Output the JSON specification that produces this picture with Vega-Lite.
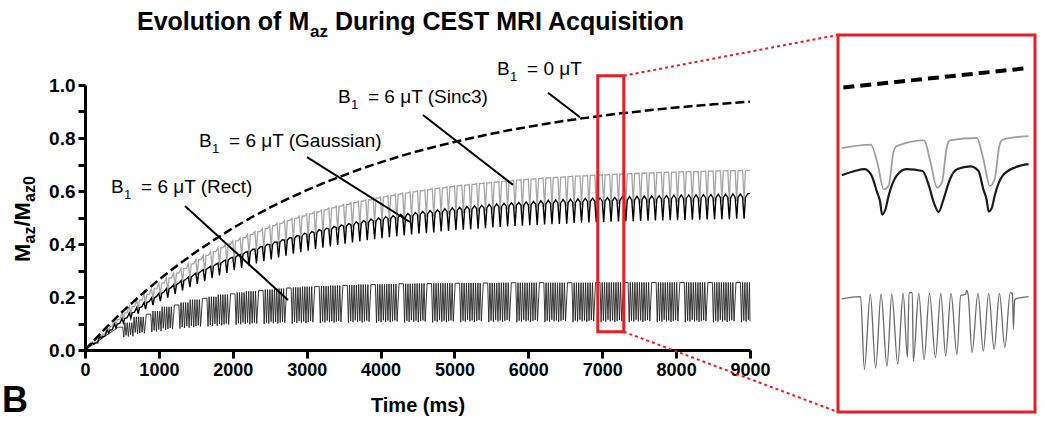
{
"$schema":"https://vega.github.io/schema/vega-lite/v6.json",
"width":665,"height":265,"autosize":"none",
"padding":{"left":85,"top":85,"right":295,"bottom":73},
"background":"white",
"config":{"view":{"stroke":null},"font":"Liberation Sans","text":{"font":"Liberation Sans","color":"black"}},
"datasets":{
"dash":[{"t":0,"v":0},{"t":250,"v":0.074},{"t":500,"v":0.143},{"t":750,"v":0.206},{"t":1000,"v":0.265},{"t":1250,"v":0.319},{"t":1500,"v":0.37},{"t":1750,"v":0.416},{"t":2000,"v":0.46},{"t":2250,"v":0.5},{"t":2500,"v":0.537},{"t":2750,"v":0.571},{"t":3000,"v":0.603},{"t":3250,"v":0.632},{"t":3500,"v":0.659},{"t":3750,"v":0.685},{"t":4000,"v":0.708},{"t":4250,"v":0.73},{"t":4500,"v":0.75},{"t":4750,"v":0.768},{"t":5000,"v":0.785},{"t":5250,"v":0.801},{"t":5500,"v":0.816},{"t":5750,"v":0.83},{"t":6000,"v":0.842},{"t":6250,"v":0.854},{"t":6500,"v":0.865},{"t":6750,"v":0.875},{"t":7000,"v":0.884},{"t":7250,"v":0.893},{"t":7500,"v":0.9},{"t":7750,"v":0.908},{"t":8000,"v":0.915},{"t":8250,"v":0.921},{"t":8500,"v":0.927},{"t":8750,"v":0.932},{"t":9000,"v":0.937}],
"gb":[{"t":0,"g":0,"b":0},
{"t":100,"g":0.031,"b":0.026},{"t":120,"g":0.026,"b":0.022},{"t":138,"g":0.031,"b":0.026},{"t":170,"g":0.031,"b":0.027},
{"t":200,"g":0.060,"b":0.051},{"t":220,"g":0.050,"b":0.044},{"t":238,"g":0.060,"b":0.051},{"t":270,"g":0.060,"b":0.052},
{"t":300,"g":0.088,"b":0.075},{"t":320,"g":0.073,"b":0.064},{"t":338,"g":0.088,"b":0.075},{"t":370,"g":0.088,"b":0.077},
{"t":400,"g":0.115,"b":0.098},{"t":420,"g":0.095,"b":0.084},{"t":438,"g":0.115,"b":0.098},{"t":470,"g":0.115,"b":0.100},
{"t":500,"g":0.140,"b":0.119},{"t":520,"g":0.116,"b":0.102},{"t":538,"g":0.140,"b":0.119},{"t":570,"g":0.140,"b":0.122},
{"t":600,"g":0.165,"b":0.140},{"t":620,"g":0.137,"b":0.120},{"t":638,"g":0.165,"b":0.140},{"t":670,"g":0.165,"b":0.143},
{"t":700,"g":0.188,"b":0.160},{"t":720,"g":0.156,"b":0.137},{"t":738,"g":0.188,"b":0.160},{"t":770,"g":0.188,"b":0.164},
{"t":800,"g":0.210,"b":0.179},{"t":820,"g":0.175,"b":0.154},{"t":838,"g":0.210,"b":0.179},{"t":870,"g":0.210,"b":0.183},
{"t":900,"g":0.232,"b":0.197},{"t":920,"g":0.192,"b":0.169},{"t":938,"g":0.232,"b":0.197},{"t":970,"g":0.232,"b":0.202},
{"t":1000,"g":0.252,"b":0.214},{"t":1020,"g":0.209,"b":0.184},{"t":1038,"g":0.252,"b":0.214},{"t":1070,"g":0.252,"b":0.219},
{"t":1100,"g":0.272,"b":0.231},{"t":1120,"g":0.225,"b":0.198},{"t":1138,"g":0.272,"b":0.231},{"t":1170,"g":0.272,"b":0.236},
{"t":1200,"g":0.290,"b":0.247},{"t":1220,"g":0.241,"b":0.212},{"t":1238,"g":0.290,"b":0.247},{"t":1270,"g":0.290,"b":0.252},
{"t":1300,"g":0.308,"b":0.262},{"t":1320,"g":0.256,"b":0.225},{"t":1338,"g":0.308,"b":0.262},{"t":1370,"g":0.308,"b":0.268},
{"t":1400,"g":0.325,"b":0.276},{"t":1420,"g":0.270,"b":0.237},{"t":1438,"g":0.325,"b":0.276},{"t":1470,"g":0.325,"b":0.283},
{"t":1500,"g":0.341,"b":0.290},{"t":1520,"g":0.283,"b":0.249},{"t":1538,"g":0.341,"b":0.290},{"t":1570,"g":0.341,"b":0.297},
{"t":1600,"g":0.357,"b":0.303},{"t":1620,"g":0.296,"b":0.260},{"t":1638,"g":0.357,"b":0.303},{"t":1670,"g":0.357,"b":0.310},
{"t":1700,"g":0.371,"b":0.316},{"t":1720,"g":0.308,"b":0.271},{"t":1738,"g":0.371,"b":0.316},{"t":1770,"g":0.371,"b":0.323},
{"t":1800,"g":0.386,"b":0.328},{"t":1820,"g":0.320,"b":0.281},{"t":1838,"g":0.386,"b":0.328},{"t":1870,"g":0.386,"b":0.335},
{"t":1900,"g":0.399,"b":0.339},{"t":1920,"g":0.331,"b":0.291},{"t":1938,"g":0.399,"b":0.339},{"t":1970,"g":0.399,"b":0.347},
{"t":2000,"g":0.412,"b":0.350},{"t":2020,"g":0.342,"b":0.301},{"t":2038,"g":0.412,"b":0.350},{"t":2070,"g":0.412,"b":0.358},
{"t":2100,"g":0.424,"b":0.361},{"t":2120,"g":0.352,"b":0.310},{"t":2138,"g":0.424,"b":0.361},{"t":2170,"g":0.424,"b":0.369},
{"t":2200,"g":0.436,"b":0.371},{"t":2220,"g":0.362,"b":0.318},{"t":2238,"g":0.436,"b":0.371},{"t":2270,"g":0.436,"b":0.380},
{"t":2300,"g":0.447,"b":0.380},{"t":2320,"g":0.371,"b":0.327},{"t":2338,"g":0.447,"b":0.380},{"t":2370,"g":0.447,"b":0.389},
{"t":2400,"g":0.458,"b":0.390},{"t":2420,"g":0.380,"b":0.335},{"t":2438,"g":0.458,"b":0.390},{"t":2470,"g":0.458,"b":0.399},
{"t":2500,"g":0.469,"b":0.398},{"t":2520,"g":0.389,"b":0.342},{"t":2538,"g":0.469,"b":0.398},{"t":2570,"g":0.469,"b":0.408},
{"t":2600,"g":0.478,"b":0.407},{"t":2620,"g":0.397,"b":0.349},{"t":2638,"g":0.478,"b":0.407},{"t":2670,"g":0.478,"b":0.416},
{"t":2700,"g":0.488,"b":0.415},{"t":2720,"g":0.405,"b":0.356},{"t":2738,"g":0.488,"b":0.415},{"t":2770,"g":0.488,"b":0.424},
{"t":2800,"g":0.497,"b":0.422},{"t":2820,"g":0.412,"b":0.363},{"t":2838,"g":0.497,"b":0.422},{"t":2870,"g":0.497,"b":0.432},
{"t":2900,"g":0.505,"b":0.430},{"t":2920,"g":0.419,"b":0.369},{"t":2938,"g":0.505,"b":0.430},{"t":2970,"g":0.505,"b":0.440},
{"t":3000,"g":0.514,"b":0.437},{"t":3020,"g":0.426,"b":0.375},{"t":3038,"g":0.514,"b":0.437},{"t":3070,"g":0.514,"b":0.447},
{"t":3100,"g":0.521,"b":0.443},{"t":3120,"g":0.433,"b":0.381},{"t":3138,"g":0.521,"b":0.443},{"t":3170,"g":0.521,"b":0.454},
{"t":3200,"g":0.529,"b":0.450},{"t":3220,"g":0.439,"b":0.386},{"t":3238,"g":0.529,"b":0.450},{"t":3270,"g":0.529,"b":0.460},
{"t":3300,"g":0.536,"b":0.456},{"t":3320,"g":0.445,"b":0.391},{"t":3338,"g":0.536,"b":0.456},{"t":3370,"g":0.536,"b":0.466},
{"t":3400,"g":0.543,"b":0.462},{"t":3420,"g":0.451,"b":0.396},{"t":3438,"g":0.543,"b":0.462},{"t":3470,"g":0.543,"b":0.472},
{"t":3500,"g":0.549,"b":0.467},{"t":3520,"g":0.456,"b":0.401},{"t":3538,"g":0.549,"b":0.467},{"t":3570,"g":0.549,"b":0.478},
{"t":3600,"g":0.556,"b":0.472},{"t":3620,"g":0.461,"b":0.406},{"t":3638,"g":0.556,"b":0.472},{"t":3670,"g":0.556,"b":0.484},
{"t":3700,"g":0.562,"b":0.477},{"t":3720,"g":0.466,"b":0.410},{"t":3738,"g":0.562,"b":0.477},{"t":3770,"g":0.562,"b":0.489},
{"t":3800,"g":0.567,"b":0.482},{"t":3820,"g":0.471,"b":0.414},{"t":3838,"g":0.567,"b":0.482},{"t":3870,"g":0.567,"b":0.494},
{"t":3900,"g":0.573,"b":0.487},{"t":3920,"g":0.475,"b":0.418},{"t":3938,"g":0.573,"b":0.487},{"t":3970,"g":0.573,"b":0.498},
{"t":4000,"g":0.578,"b":0.491},{"t":4020,"g":0.480,"b":0.422},{"t":4038,"g":0.578,"b":0.491},{"t":4070,"g":0.578,"b":0.503},
{"t":4100,"g":0.583,"b":0.496},{"t":4120,"g":0.484,"b":0.426},{"t":4138,"g":0.583,"b":0.496},{"t":4170,"g":0.583,"b":0.507},
{"t":4200,"g":0.588,"b":0.500},{"t":4220,"g":0.488,"b":0.429},{"t":4238,"g":0.588,"b":0.500},{"t":4270,"g":0.588,"b":0.511},
{"t":4300,"g":0.592,"b":0.504},{"t":4320,"g":0.492,"b":0.432},{"t":4338,"g":0.592,"b":0.504},{"t":4370,"g":0.592,"b":0.515},
{"t":4400,"g":0.597,"b":0.507},{"t":4420,"g":0.495,"b":0.436},{"t":4438,"g":0.597,"b":0.507},{"t":4470,"g":0.597,"b":0.519},
{"t":4500,"g":0.601,"b":0.511},{"t":4520,"g":0.499,"b":0.439},{"t":4538,"g":0.601,"b":0.511},{"t":4570,"g":0.601,"b":0.523},
{"t":4600,"g":0.605,"b":0.514},{"t":4620,"g":0.502,"b":0.441},{"t":4638,"g":0.605,"b":0.514},{"t":4670,"g":0.605,"b":0.526},
{"t":4700,"g":0.609,"b":0.517},{"t":4720,"g":0.505,"b":0.444},{"t":4738,"g":0.609,"b":0.517},{"t":4770,"g":0.609,"b":0.529},
{"t":4800,"g":0.612,"b":0.520},{"t":4820,"g":0.508,"b":0.447},{"t":4838,"g":0.612,"b":0.520},{"t":4870,"g":0.612,"b":0.533},
{"t":4900,"g":0.616,"b":0.523},{"t":4920,"g":0.511,"b":0.449},{"t":4938,"g":0.616,"b":0.523},{"t":4970,"g":0.616,"b":0.536},
{"t":5000,"g":0.619,"b":0.526},{"t":5020,"g":0.514,"b":0.452},{"t":5038,"g":0.619,"b":0.526},{"t":5070,"g":0.619,"b":0.538},
{"t":5100,"g":0.622,"b":0.529},{"t":5120,"g":0.516,"b":0.454},{"t":5138,"g":0.622,"b":0.529},{"t":5170,"g":0.622,"b":0.541},
{"t":5200,"g":0.625,"b":0.531},{"t":5220,"g":0.519,"b":0.456},{"t":5238,"g":0.625,"b":0.531},{"t":5270,"g":0.625,"b":0.544},
{"t":5300,"g":0.628,"b":0.534},{"t":5320,"g":0.521,"b":0.458},{"t":5338,"g":0.628,"b":0.534},{"t":5370,"g":0.628,"b":0.546},
{"t":5400,"g":0.631,"b":0.536},{"t":5420,"g":0.524,"b":0.460},{"t":5438,"g":0.631,"b":0.536},{"t":5470,"g":0.631,"b":0.549},
{"t":5500,"g":0.633,"b":0.538},{"t":5520,"g":0.526,"b":0.462},{"t":5538,"g":0.633,"b":0.538},{"t":5570,"g":0.633,"b":0.551},
{"t":5600,"g":0.636,"b":0.541},{"t":5620,"g":0.528,"b":0.464},{"t":5638,"g":0.636,"b":0.541},{"t":5670,"g":0.636,"b":0.553},
{"t":5700,"g":0.638,"b":0.543},{"t":5720,"g":0.530,"b":0.466},{"t":5738,"g":0.638,"b":0.543},{"t":5770,"g":0.638,"b":0.555},
{"t":5800,"g":0.641,"b":0.545},{"t":5820,"g":0.532,"b":0.468},{"t":5838,"g":0.641,"b":0.545},{"t":5870,"g":0.641,"b":0.557},
{"t":5900,"g":0.643,"b":0.546},{"t":5920,"g":0.534,"b":0.469},{"t":5938,"g":0.643,"b":0.546},{"t":5970,"g":0.643,"b":0.559},
{"t":6000,"g":0.645,"b":0.548},{"t":6020,"g":0.535,"b":0.471},{"t":6038,"g":0.645,"b":0.548},{"t":6070,"g":0.645,"b":0.561},
{"t":6100,"g":0.647,"b":0.550},{"t":6120,"g":0.537,"b":0.472},{"t":6138,"g":0.647,"b":0.550},{"t":6170,"g":0.647,"b":0.563},
{"t":6200,"g":0.649,"b":0.552},{"t":6220,"g":0.539,"b":0.474},{"t":6238,"g":0.649,"b":0.552},{"t":6270,"g":0.649,"b":0.565},
{"t":6300,"g":0.651,"b":0.553},{"t":6320,"g":0.540,"b":0.475},{"t":6338,"g":0.651,"b":0.553},{"t":6370,"g":0.651,"b":0.566},
{"t":6400,"g":0.652,"b":0.555},{"t":6420,"g":0.542,"b":0.476},{"t":6438,"g":0.652,"b":0.555},{"t":6470,"g":0.652,"b":0.568},
{"t":6500,"g":0.654,"b":0.556},{"t":6520,"g":0.543,"b":0.477},{"t":6538,"g":0.654,"b":0.556},{"t":6570,"g":0.654,"b":0.569},
{"t":6600,"g":0.656,"b":0.557},{"t":6620,"g":0.544,"b":0.479},{"t":6638,"g":0.656,"b":0.557},{"t":6670,"g":0.656,"b":0.570},
{"t":6700,"g":0.657,"b":0.559},{"t":6720,"g":0.546,"b":0.480},{"t":6738,"g":0.657,"b":0.559},{"t":6770,"g":0.657,"b":0.572},
{"t":6800,"g":0.659,"b":0.560},{"t":6820,"g":0.547,"b":0.481},{"t":6838,"g":0.659,"b":0.560},{"t":6870,"g":0.659,"b":0.573},
{"t":6900,"g":0.660,"b":0.561},{"t":6920,"g":0.548,"b":0.482},{"t":6938,"g":0.660,"b":0.561},{"t":6970,"g":0.660,"b":0.574},
{"t":7000,"g":0.661,"b":0.562},{"t":7020,"g":0.549,"b":0.483},{"t":7038,"g":0.661,"b":0.562},{"t":7070,"g":0.661,"b":0.575},
{"t":7100,"g":0.663,"b":0.563},{"t":7120,"g":0.550,"b":0.484},{"t":7138,"g":0.663,"b":0.563},{"t":7170,"g":0.663,"b":0.576},
{"t":7200,"g":0.664,"b":0.564},{"t":7220,"g":0.551,"b":0.485},{"t":7238,"g":0.664,"b":0.564},{"t":7270,"g":0.664,"b":0.578},
{"t":7300,"g":0.665,"b":0.565},{"t":7320,"g":0.552,"b":0.486},{"t":7338,"g":0.665,"b":0.565},{"t":7370,"g":0.665,"b":0.579},
{"t":7400,"g":0.666,"b":0.566},{"t":7420,"g":0.553,"b":0.486},{"t":7438,"g":0.666,"b":0.566},{"t":7470,"g":0.666,"b":0.580},
{"t":7500,"g":0.667,"b":0.567},{"t":7520,"g":0.554,"b":0.487},{"t":7538,"g":0.667,"b":0.567},{"t":7570,"g":0.667,"b":0.581},
{"t":7600,"g":0.668,"b":0.568},{"t":7620,"g":0.555,"b":0.488},{"t":7638,"g":0.668,"b":0.568},{"t":7670,"g":0.668,"b":0.581},
{"t":7700,"g":0.669,"b":0.569},{"t":7720,"g":0.555,"b":0.489},{"t":7738,"g":0.669,"b":0.569},{"t":7770,"g":0.669,"b":0.582},
{"t":7800,"g":0.670,"b":0.570},{"t":7820,"g":0.556,"b":0.489},{"t":7838,"g":0.670,"b":0.570},{"t":7870,"g":0.670,"b":0.583},
{"t":7900,"g":0.671,"b":0.570},{"t":7920,"g":0.557,"b":0.490},{"t":7938,"g":0.671,"b":0.570},{"t":7970,"g":0.671,"b":0.584},
{"t":8000,"g":0.672,"b":0.571},{"t":8020,"g":0.558,"b":0.490},{"t":8038,"g":0.672,"b":0.571},{"t":8070,"g":0.672,"b":0.585},
{"t":8100,"g":0.673,"b":0.572},{"t":8120,"g":0.558,"b":0.491},{"t":8138,"g":0.673,"b":0.572},{"t":8170,"g":0.673,"b":0.585},
{"t":8200,"g":0.673,"b":0.572},{"t":8220,"g":0.559,"b":0.492},{"t":8238,"g":0.673,"b":0.572},{"t":8270,"g":0.673,"b":0.586},
{"t":8300,"g":0.674,"b":0.573},{"t":8320,"g":0.560,"b":0.492},{"t":8338,"g":0.674,"b":0.573},{"t":8370,"g":0.674,"b":0.586},
{"t":8400,"g":0.675,"b":0.574},{"t":8420,"g":0.560,"b":0.493},{"t":8438,"g":0.675,"b":0.574},{"t":8470,"g":0.675,"b":0.587},
{"t":8500,"g":0.676,"b":0.574},{"t":8520,"g":0.561,"b":0.493},{"t":8538,"g":0.676,"b":0.574},{"t":8570,"g":0.676,"b":0.588},
{"t":8600,"g":0.676,"b":0.575},{"t":8620,"g":0.561,"b":0.494},{"t":8638,"g":0.676,"b":0.575},{"t":8670,"g":0.676,"b":0.588},
{"t":8700,"g":0.677,"b":0.575},{"t":8720,"g":0.562,"b":0.494},{"t":8738,"g":0.677,"b":0.575},{"t":8770,"g":0.677,"b":0.589},
{"t":8800,"g":0.677,"b":0.576},{"t":8820,"g":0.562,"b":0.495},{"t":8838,"g":0.677,"b":0.576},{"t":8870,"g":0.677,"b":0.589},
{"t":8900,"g":0.678,"b":0.576},{"t":8920,"g":0.563,"b":0.495},{"t":8938,"g":0.678,"b":0.576},{"t":8970,"g":0.678,"b":0.590},
{"t":9000,"g":0.679,"b":0.590}],
"rect":[{"t":0,"v":0},
{"t":450,"v":0.086},{"t":510,"v":0.086},{"t":525,"v":0.049},{"t":540,"v":0.103},{"t":556,"v":0.055},{"t":571,"v":0.103},{"t":587,"v":0.051},{"t":602,"v":0.103},{"t":618,"v":0.058},{"t":633,"v":0.103},{"t":649,"v":0.052},{"t":664,"v":0.125},{"t":680,"v":0.066},{"t":695,"v":0.125},{"t":711,"v":0.060},{"t":726,"v":0.125},{"t":742,"v":0.064},{"t":757,"v":0.125},{"t":773,"v":0.067},{"t":788,"v":0.125},{"t":804,"v":0.063},
{"t":830,"v":0.135},{"t":890,"v":0.135},{"t":905,"v":0.068},{"t":920,"v":0.147},{"t":936,"v":0.074},{"t":951,"v":0.147},{"t":967,"v":0.070},{"t":982,"v":0.147},{"t":998,"v":0.077},{"t":1013,"v":0.147},{"t":1029,"v":0.071},{"t":1044,"v":0.163},{"t":1060,"v":0.082},{"t":1075,"v":0.163},{"t":1091,"v":0.076},{"t":1106,"v":0.163},{"t":1122,"v":0.080},{"t":1137,"v":0.163},{"t":1153,"v":0.083},{"t":1168,"v":0.163},{"t":1184,"v":0.079},
{"t":1210,"v":0.170},{"t":1270,"v":0.170},{"t":1285,"v":0.081},{"t":1300,"v":0.179},{"t":1316,"v":0.087},{"t":1331,"v":0.179},{"t":1347,"v":0.083},{"t":1362,"v":0.179},{"t":1378,"v":0.090},{"t":1393,"v":0.179},{"t":1409,"v":0.084},{"t":1424,"v":0.190},{"t":1440,"v":0.092},{"t":1455,"v":0.190},{"t":1471,"v":0.086},{"t":1486,"v":0.190},{"t":1502,"v":0.090},{"t":1517,"v":0.190},{"t":1533,"v":0.093},{"t":1548,"v":0.190},{"t":1564,"v":0.089},
{"t":1590,"v":0.195},{"t":1650,"v":0.195},{"t":1665,"v":0.089},{"t":1680,"v":0.201},{"t":1696,"v":0.095},{"t":1711,"v":0.201},{"t":1727,"v":0.091},{"t":1742,"v":0.201},{"t":1758,"v":0.098},{"t":1773,"v":0.201},{"t":1789,"v":0.092},{"t":1804,"v":0.209},{"t":1820,"v":0.099},{"t":1835,"v":0.209},{"t":1851,"v":0.093},{"t":1866,"v":0.209},{"t":1882,"v":0.097},{"t":1897,"v":0.209},{"t":1913,"v":0.100},{"t":1928,"v":0.209},{"t":1944,"v":0.096},
{"t":1970,"v":0.212},{"t":2030,"v":0.212},{"t":2045,"v":0.095},{"t":2060,"v":0.217},{"t":2076,"v":0.101},{"t":2091,"v":0.217},{"t":2107,"v":0.097},{"t":2122,"v":0.217},{"t":2138,"v":0.104},{"t":2153,"v":0.217},{"t":2169,"v":0.098},{"t":2184,"v":0.222},{"t":2200,"v":0.103},{"t":2215,"v":0.222},{"t":2231,"v":0.097},{"t":2246,"v":0.222},{"t":2262,"v":0.101},{"t":2277,"v":0.222},{"t":2293,"v":0.104},{"t":2308,"v":0.222},{"t":2324,"v":0.100},
{"t":2350,"v":0.225},{"t":2410,"v":0.225},{"t":2425,"v":0.098},{"t":2440,"v":0.228},{"t":2456,"v":0.104},{"t":2471,"v":0.228},{"t":2487,"v":0.100},{"t":2502,"v":0.228},{"t":2518,"v":0.107},{"t":2533,"v":0.228},{"t":2549,"v":0.101},{"t":2564,"v":0.232},{"t":2580,"v":0.106},{"t":2595,"v":0.232},{"t":2611,"v":0.100},{"t":2626,"v":0.232},{"t":2642,"v":0.104},{"t":2657,"v":0.232},{"t":2673,"v":0.107},{"t":2688,"v":0.232},{"t":2704,"v":0.103},
{"t":2730,"v":0.234},{"t":2790,"v":0.234},{"t":2805,"v":0.100},{"t":2820,"v":0.236},{"t":2836,"v":0.106},{"t":2851,"v":0.236},{"t":2867,"v":0.102},{"t":2882,"v":0.236},{"t":2898,"v":0.109},{"t":2913,"v":0.236},{"t":2929,"v":0.103},{"t":2944,"v":0.239},{"t":2960,"v":0.108},{"t":2975,"v":0.239},{"t":2991,"v":0.102},{"t":3006,"v":0.239},{"t":3022,"v":0.106},{"t":3037,"v":0.239},{"t":3053,"v":0.109},{"t":3068,"v":0.239},{"t":3084,"v":0.105},
{"t":3110,"v":0.240},{"t":3170,"v":0.240},{"t":3185,"v":0.102},{"t":3200,"v":0.241},{"t":3216,"v":0.108},{"t":3231,"v":0.241},{"t":3247,"v":0.104},{"t":3262,"v":0.241},{"t":3278,"v":0.111},{"t":3293,"v":0.241},{"t":3309,"v":0.105},{"t":3324,"v":0.243},{"t":3340,"v":0.109},{"t":3355,"v":0.243},{"t":3371,"v":0.103},{"t":3386,"v":0.243},{"t":3402,"v":0.107},{"t":3417,"v":0.243},{"t":3433,"v":0.110},{"t":3448,"v":0.243},{"t":3464,"v":0.106},
{"t":3490,"v":0.244},{"t":3550,"v":0.244},{"t":3565,"v":0.103},{"t":3580,"v":0.245},{"t":3596,"v":0.109},{"t":3611,"v":0.245},{"t":3627,"v":0.105},{"t":3642,"v":0.245},{"t":3658,"v":0.112},{"t":3673,"v":0.245},{"t":3689,"v":0.106},{"t":3704,"v":0.247},{"t":3720,"v":0.110},{"t":3735,"v":0.247},{"t":3751,"v":0.104},{"t":3766,"v":0.247},{"t":3782,"v":0.108},{"t":3797,"v":0.247},{"t":3813,"v":0.111},{"t":3828,"v":0.247},{"t":3844,"v":0.107},
{"t":3870,"v":0.247},{"t":3930,"v":0.247},{"t":3945,"v":0.103},{"t":3960,"v":0.248},{"t":3976,"v":0.109},{"t":3991,"v":0.248},{"t":4007,"v":0.105},{"t":4022,"v":0.248},{"t":4038,"v":0.112},{"t":4053,"v":0.248},{"t":4069,"v":0.106},{"t":4084,"v":0.249},{"t":4100,"v":0.111},{"t":4115,"v":0.249},{"t":4131,"v":0.105},{"t":4146,"v":0.249},{"t":4162,"v":0.109},{"t":4177,"v":0.249},{"t":4193,"v":0.112},{"t":4208,"v":0.249},{"t":4224,"v":0.108},
{"t":4250,"v":0.250},{"t":4310,"v":0.250},{"t":4325,"v":0.104},{"t":4340,"v":0.250},{"t":4356,"v":0.110},{"t":4371,"v":0.250},{"t":4387,"v":0.106},{"t":4402,"v":0.250},{"t":4418,"v":0.113},{"t":4433,"v":0.250},{"t":4449,"v":0.107},{"t":4464,"v":0.251},{"t":4480,"v":0.111},{"t":4495,"v":0.251},{"t":4511,"v":0.105},{"t":4526,"v":0.251},{"t":4542,"v":0.109},{"t":4557,"v":0.251},{"t":4573,"v":0.112},{"t":4588,"v":0.251},{"t":4604,"v":0.108},
{"t":4630,"v":0.251},{"t":4690,"v":0.251},{"t":4705,"v":0.104},{"t":4720,"v":0.252},{"t":4736,"v":0.110},{"t":4751,"v":0.252},{"t":4767,"v":0.106},{"t":4782,"v":0.252},{"t":4798,"v":0.113},{"t":4813,"v":0.252},{"t":4829,"v":0.107},{"t":4844,"v":0.252},{"t":4860,"v":0.111},{"t":4875,"v":0.252},{"t":4891,"v":0.105},{"t":4906,"v":0.252},{"t":4922,"v":0.109},{"t":4937,"v":0.252},{"t":4953,"v":0.112},{"t":4968,"v":0.252},{"t":4984,"v":0.108},
{"t":5010,"v":0.252},{"t":5070,"v":0.252},{"t":5085,"v":0.105},{"t":5100,"v":0.253},{"t":5116,"v":0.111},{"t":5131,"v":0.253},{"t":5147,"v":0.107},{"t":5162,"v":0.253},{"t":5178,"v":0.114},{"t":5193,"v":0.253},{"t":5209,"v":0.108},{"t":5224,"v":0.253},{"t":5240,"v":0.112},{"t":5255,"v":0.253},{"t":5271,"v":0.106},{"t":5286,"v":0.253},{"t":5302,"v":0.110},{"t":5317,"v":0.253},{"t":5333,"v":0.113},{"t":5348,"v":0.253},{"t":5364,"v":0.109},
{"t":5390,"v":0.253},{"t":5450,"v":0.253},{"t":5465,"v":0.105},{"t":5480,"v":0.253},{"t":5496,"v":0.111},{"t":5511,"v":0.253},{"t":5527,"v":0.107},{"t":5542,"v":0.253},{"t":5558,"v":0.114},{"t":5573,"v":0.253},{"t":5589,"v":0.108},{"t":5604,"v":0.254},{"t":5620,"v":0.112},{"t":5635,"v":0.254},{"t":5651,"v":0.106},{"t":5666,"v":0.254},{"t":5682,"v":0.110},{"t":5697,"v":0.254},{"t":5713,"v":0.113},{"t":5728,"v":0.254},{"t":5744,"v":0.109},
{"t":5770,"v":0.254},{"t":5830,"v":0.254},{"t":5845,"v":0.105},{"t":5860,"v":0.254},{"t":5876,"v":0.111},{"t":5891,"v":0.254},{"t":5907,"v":0.107},{"t":5922,"v":0.254},{"t":5938,"v":0.114},{"t":5953,"v":0.254},{"t":5969,"v":0.108},{"t":5984,"v":0.254},{"t":6000,"v":0.112},{"t":6015,"v":0.254},{"t":6031,"v":0.106},{"t":6046,"v":0.254},{"t":6062,"v":0.110},{"t":6077,"v":0.254},{"t":6093,"v":0.113},{"t":6108,"v":0.254},{"t":6124,"v":0.109},
{"t":6150,"v":0.254},{"t":6210,"v":0.254},{"t":6225,"v":0.105},{"t":6240,"v":0.254},{"t":6256,"v":0.111},{"t":6271,"v":0.254},{"t":6287,"v":0.107},{"t":6302,"v":0.254},{"t":6318,"v":0.114},{"t":6333,"v":0.254},{"t":6349,"v":0.108},{"t":6364,"v":0.254},{"t":6380,"v":0.112},{"t":6395,"v":0.254},{"t":6411,"v":0.106},{"t":6426,"v":0.254},{"t":6442,"v":0.110},{"t":6457,"v":0.254},{"t":6473,"v":0.113},{"t":6488,"v":0.254},{"t":6504,"v":0.109},
{"t":6530,"v":0.254},{"t":6590,"v":0.254},{"t":6605,"v":0.105},{"t":6620,"v":0.254},{"t":6636,"v":0.111},{"t":6651,"v":0.254},{"t":6667,"v":0.107},{"t":6682,"v":0.254},{"t":6698,"v":0.114},{"t":6713,"v":0.254},{"t":6729,"v":0.108},{"t":6744,"v":0.254},{"t":6760,"v":0.112},{"t":6775,"v":0.254},{"t":6791,"v":0.106},{"t":6806,"v":0.254},{"t":6822,"v":0.110},{"t":6837,"v":0.254},{"t":6853,"v":0.113},{"t":6868,"v":0.254},{"t":6884,"v":0.109},
{"t":6910,"v":0.255},{"t":6970,"v":0.255},{"t":6985,"v":0.105},{"t":7000,"v":0.255},{"t":7016,"v":0.111},{"t":7031,"v":0.255},{"t":7047,"v":0.107},{"t":7062,"v":0.255},{"t":7078,"v":0.114},{"t":7093,"v":0.255},{"t":7109,"v":0.108},{"t":7124,"v":0.255},{"t":7140,"v":0.112},{"t":7155,"v":0.255},{"t":7171,"v":0.106},{"t":7186,"v":0.255},{"t":7202,"v":0.110},{"t":7217,"v":0.255},{"t":7233,"v":0.113},{"t":7248,"v":0.255},{"t":7264,"v":0.109},
{"t":7290,"v":0.255},{"t":7350,"v":0.255},{"t":7365,"v":0.105},{"t":7380,"v":0.255},{"t":7396,"v":0.111},{"t":7411,"v":0.255},{"t":7427,"v":0.107},{"t":7442,"v":0.255},{"t":7458,"v":0.114},{"t":7473,"v":0.255},{"t":7489,"v":0.108},{"t":7504,"v":0.255},{"t":7520,"v":0.112},{"t":7535,"v":0.255},{"t":7551,"v":0.106},{"t":7566,"v":0.255},{"t":7582,"v":0.110},{"t":7597,"v":0.255},{"t":7613,"v":0.113},{"t":7628,"v":0.255},{"t":7644,"v":0.109},
{"t":7670,"v":0.255},{"t":7730,"v":0.255},{"t":7745,"v":0.105},{"t":7760,"v":0.255},{"t":7776,"v":0.111},{"t":7791,"v":0.255},{"t":7807,"v":0.107},{"t":7822,"v":0.255},{"t":7838,"v":0.114},{"t":7853,"v":0.255},{"t":7869,"v":0.108},{"t":7884,"v":0.255},{"t":7900,"v":0.112},{"t":7915,"v":0.255},{"t":7931,"v":0.106},{"t":7946,"v":0.255},{"t":7962,"v":0.110},{"t":7977,"v":0.255},{"t":7993,"v":0.113},{"t":8008,"v":0.255},{"t":8024,"v":0.109},
{"t":8050,"v":0.255},{"t":8110,"v":0.255},{"t":8125,"v":0.105},{"t":8140,"v":0.255},{"t":8156,"v":0.111},{"t":8171,"v":0.255},{"t":8187,"v":0.107},{"t":8202,"v":0.255},{"t":8218,"v":0.114},{"t":8233,"v":0.255},{"t":8249,"v":0.108},{"t":8264,"v":0.255},{"t":8280,"v":0.112},{"t":8295,"v":0.255},{"t":8311,"v":0.106},{"t":8326,"v":0.255},{"t":8342,"v":0.110},{"t":8357,"v":0.255},{"t":8373,"v":0.113},{"t":8388,"v":0.255},{"t":8404,"v":0.109},
{"t":8430,"v":0.255},{"t":8490,"v":0.255},{"t":8505,"v":0.105},{"t":8520,"v":0.255},{"t":8536,"v":0.111},{"t":8551,"v":0.255},{"t":8567,"v":0.107},{"t":8582,"v":0.255},{"t":8598,"v":0.114},{"t":8613,"v":0.255},{"t":8629,"v":0.108},{"t":8644,"v":0.255},{"t":8660,"v":0.112},{"t":8675,"v":0.255},{"t":8691,"v":0.106},{"t":8706,"v":0.255},{"t":8722,"v":0.110},{"t":8737,"v":0.255},{"t":8753,"v":0.113},{"t":8768,"v":0.255},{"t":8784,"v":0.109},
{"t":8810,"v":0.255},{"t":8870,"v":0.255},{"t":8885,"v":0.105},{"t":8900,"v":0.255},{"t":8916,"v":0.111},{"t":8931,"v":0.255},{"t":8947,"v":0.107},{"t":8962,"v":0.255},{"t":8978,"v":0.114},{"t":8993,"v":0.255},{"t":9000,"v":0.108}],
"labels":[{"t":5576,"v":1.038,"rest":"= 0 μT"},{"t":3424,"v":0.931,"rest":"= 6 μT (Sinc3)"},{"t":1543,"v":0.767,"rest":"= 6 μT (Gaussian)"},{"t":352,"v":0.594,"rest":"= 6 μT (Rect)"}],
"pointers":[{"t":6266,"v":0.971,"t2":6699,"v2":0.878},{"t":4574,"v":0.887,"t2":5792,"v2":0.623},{"t":3004,"v":0.728,"t2":4398,"v2":0.483},{"t":1353,"v":0.543,"t2":2747,"v2":0.189}],
"box":[{"t":6940,"v":0.069,"t2":7292,"v2":1.035}],
"connectors":[{"t":7292,"v":1.035,"t2":10191,"v2":1.189},{"t":7292,"v":0.069,"t2":10191,"v2":-0.234}],
"title":[{"t":704,"v":1.2075}],
"ytitle":[{"t":-744,"v":0.332}],
"panel":[{"t":-1123,"v":-0.234}],
"idash":[{"t":6938,"v":0.911},{"t":7282,"v":0.961}],
"igray":[{"t":6935,"v":0.755},{"t":6989,"v":0.764},{"t":7001,"v":0.718},{"t":7013,"v":0.649},{"t":7022,"v":0.658},{"t":7031,"v":0.744},{"t":7037,"v":0.760},{"t":7088,"v":0.775},{"t":7100,"v":0.718},{"t":7112,"v":0.653},{"t":7121,"v":0.666},{"t":7130,"v":0.757},{"t":7136,"v":0.775},{"t":7186,"v":0.781},{"t":7198,"v":0.727},{"t":7210,"v":0.658},{"t":7219,"v":0.675},{"t":7228,"v":0.762},{"t":7234,"v":0.777},{"t":7282,"v":0.786}],
"iblack":[{"t":6935,"v":0.685},{"t":6959,"v":0.696},{"t":6977,"v":0.701},{"t":6989,"v":0.688},{"t":7001,"v":0.640},{"t":7006,"v":0.619},{"t":7010,"v":0.584},{"t":7016,"v":0.597},{"t":7022,"v":0.632},{"t":7037,"v":0.684},{"t":7055,"v":0.701},{"t":7085,"v":0.696},{"t":7097,"v":0.658},{"t":7106,"v":0.615},{"t":7115,"v":0.591},{"t":7124,"v":0.623},{"t":7136,"v":0.675},{"t":7150,"v":0.701},{"t":7174,"v":0.708},{"t":7189,"v":0.696},{"t":7198,"v":0.649},{"t":7204,"v":0.623},{"t":7208,"v":0.592},{"t":7214,"v":0.602},{"t":7219,"v":0.632},{"t":7234,"v":0.684},{"t":7258,"v":0.706},{"t":7282,"v":0.714}],
"irect":[{"t":6935,"v":0.367},{"t":6970,"v":0.373},{"t":6977,"v":0.186},{"t":6988,"v":0.379},{"t":6998,"v":0.189},{"t":7008,"v":0.379},{"t":7019,"v":0.194},{"t":7028,"v":0.379},{"t":7039,"v":0.199},{"t":7049,"v":0.381},{"t":7057,"v":0.216},{"t":7060,"v":0.383},{"t":7066,"v":0.383},{"t":7068,"v":0.207},{"t":7078,"v":0.381},{"t":7088,"v":0.211},{"t":7098,"v":0.381},{"t":7109,"v":0.216},{"t":7119,"v":0.381},{"t":7128,"v":0.220},{"t":7138,"v":0.381},{"t":7149,"v":0.224},{"t":7156,"v":0.376},{"t":7165,"v":0.379},{"t":7167,"v":0.389},{"t":7170,"v":0.376},{"t":7177,"v":0.229},{"t":7188,"v":0.381},{"t":7198,"v":0.233},{"t":7208,"v":0.381},{"t":7218,"v":0.237},{"t":7228,"v":0.381},{"t":7238,"v":0.242},{"t":7248,"v":0.383},{"t":7252,"v":0.381},{"t":7254,"v":0.290},{"t":7256,"v":0.363},{"t":7258,"v":0.367},{"t":7282,"v":0.373}],
"ibox":[{"t":6928,"v":0.076,"t2":7294,"v2":1.046}]
},
"layer":[
{
"encoding":{
"x":{"field":"t","type":"quantitative","scale":{"domain":[0,9000],"nice":false,"zero":false},
"axis":{"values":[0,1000,2000,3000,4000,5000,6000,7000,8000,9000],"format":"d","title":"Time (ms)","titleFont":"Liberation Sans","titleFontSize":20,"titleFontWeight":"bold","titleColor":"black","titlePadding":16,"labelFont":"Liberation Sans","labelFontSize":18,"labelFontWeight":"bold","labelColor":"black","labelPadding":3,"labelFlush":false,"labelOverlap":false,"domainColor":"black","domainWidth":3,"tickColor":"black","tickWidth":3,"tickSize":8,"grid":false}},
"y":{"field":"v","type":"quantitative","scale":{"domain":[0,1],"nice":false,"zero":false},
"axis":{"values":[0,0.1,0.2,0.3,0.4,0.5,0.6,0.7,0.8,0.9,1],"labelExpr":"round(datum.value*10)%2==0?format(datum.value,'.1f'):''","title":null,"labelFont":"Liberation Sans","labelFontSize":19,"labelFontWeight":"bold","labelColor":"black","labelPadding":3,"labelFlush":false,"labelOverlap":false,"domainColor":"black","domainWidth":3,"tickColor":"black","tickWidth":3,"tickSize":7,"grid":false}}
},
"layer":[
{"data":{"name":"rect"},"mark":{"type":"line","color":"#222222","strokeWidth":0.9}},
{"data":{"name":"gb"},"transform":[{"fold":["g"],"as":["s","v"]}],"mark":{"type":"line","color":"#a6a6a6","strokeWidth":1.3}},
{"data":{"name":"gb"},"transform":[{"fold":["b"],"as":["s","v"]}],"mark":{"type":"line","color":"#000000","strokeWidth":1.4}},
{"data":{"name":"dash"},"mark":{"type":"line","color":"#000000","strokeWidth":2.5,"strokeDash":[9,4]}},
{"data":{"name":"pointers"},"mark":{"type":"rule","color":"#000000","strokeWidth":2},"encoding":{"x2":{"field":"t2"},"y2":{"field":"v2"}}},
{"data":{"name":"labels"},"mark":{"type":"text","text":"B","fontSize":19,"align":"left","baseline":"alphabetic"}},
{"data":{"name":"labels"},"mark":{"type":"text","text":"1","fontSize":13,"align":"left","baseline":"alphabetic","dx":13,"dy":6}},
{"data":{"name":"labels"},"mark":{"type":"text","fontSize":19,"align":"left","baseline":"alphabetic","dx":30},"encoding":{"text":{"field":"rest"}}},
{"data":{"name":"title"},"mark":{"type":"text","text":"Evolution of M","fontSize":25,"fontWeight":"bold","align":"left","baseline":"alphabetic"}},
{"data":{"name":"title"},"mark":{"type":"text","text":"az","fontSize":17,"fontWeight":"bold","align":"left","baseline":"alphabetic","dx":173,"dy":7}},
{"data":{"name":"title"},"mark":{"type":"text","text":"During CEST MRI Acquisition","fontSize":25,"fontWeight":"bold","align":"left","baseline":"alphabetic","dx":198}},
{"data":{"name":"ytitle"},"mark":{"type":"text","text":"M","fontSize":22,"fontWeight":"bold","align":"left","baseline":"alphabetic","angle":270}},
{"data":{"name":"ytitle"},"mark":{"type":"text","text":"az","fontSize":16,"fontWeight":"bold","align":"left","baseline":"alphabetic","angle":270,"dx":18.5,"dy":5}},
{"data":{"name":"ytitle"},"mark":{"type":"text","text":"/M","fontSize":22,"fontWeight":"bold","align":"left","baseline":"alphabetic","angle":270,"dx":35.5}},
{"data":{"name":"ytitle"},"mark":{"type":"text","text":"az0","fontSize":16,"fontWeight":"bold","align":"left","baseline":"alphabetic","angle":270,"dx":60,"dy":5}},
{"data":{"name":"panel"},"mark":{"type":"text","text":"B","fontSize":36,"fontWeight":"bold","align":"left","baseline":"alphabetic"}},
{"data":{"name":"box"},"mark":{"type":"rect","fillOpacity":0,"stroke":"#ec1c24","strokeWidth":3},"encoding":{"x2":{"field":"t2"},"y2":{"field":"v2"}}},
{"data":{"name":"connectors"},"mark":{"type":"rule","color":"#ec1c24","strokeWidth":2,"strokeDash":[3,3]},"encoding":{"x2":{"field":"t2"},"y2":{"field":"v2"}}}
]
},
{
"encoding":{
"x":{"field":"t","type":"quantitative","scale":{"domain":[6928,7294],"range":[753,950],"nice":false,"zero":false},"axis":null},
"y":{"field":"v","type":"quantitative","scale":{"domain":[0.076,1.046],"range":[327,-50],"nice":false,"zero":false},"axis":null}
},
"layer":[
{"data":{"name":"irect"},"mark":{"type":"line","color":"#6a6a6a","strokeWidth":1.3,"interpolate":"monotone"}},
{"data":{"name":"igray"},"mark":{"type":"line","color":"#a0a0a0","strokeWidth":1.8,"interpolate":"monotone"}},
{"data":{"name":"iblack"},"mark":{"type":"line","color":"#1a1a1a","strokeWidth":2.2,"interpolate":"monotone"}},
{"data":{"name":"idash"},"mark":{"type":"line","color":"#000000","strokeWidth":4,"strokeDash":[11,6]}},
{"data":{"name":"ibox"},"mark":{"type":"rect","fillOpacity":0,"stroke":"#ec1c24","strokeWidth":3},"encoding":{"x2":{"field":"t2"},"y2":{"field":"v2"}}}
]
}
],
"resolve":{"scale":{"x":"independent","y":"independent"}}
}
